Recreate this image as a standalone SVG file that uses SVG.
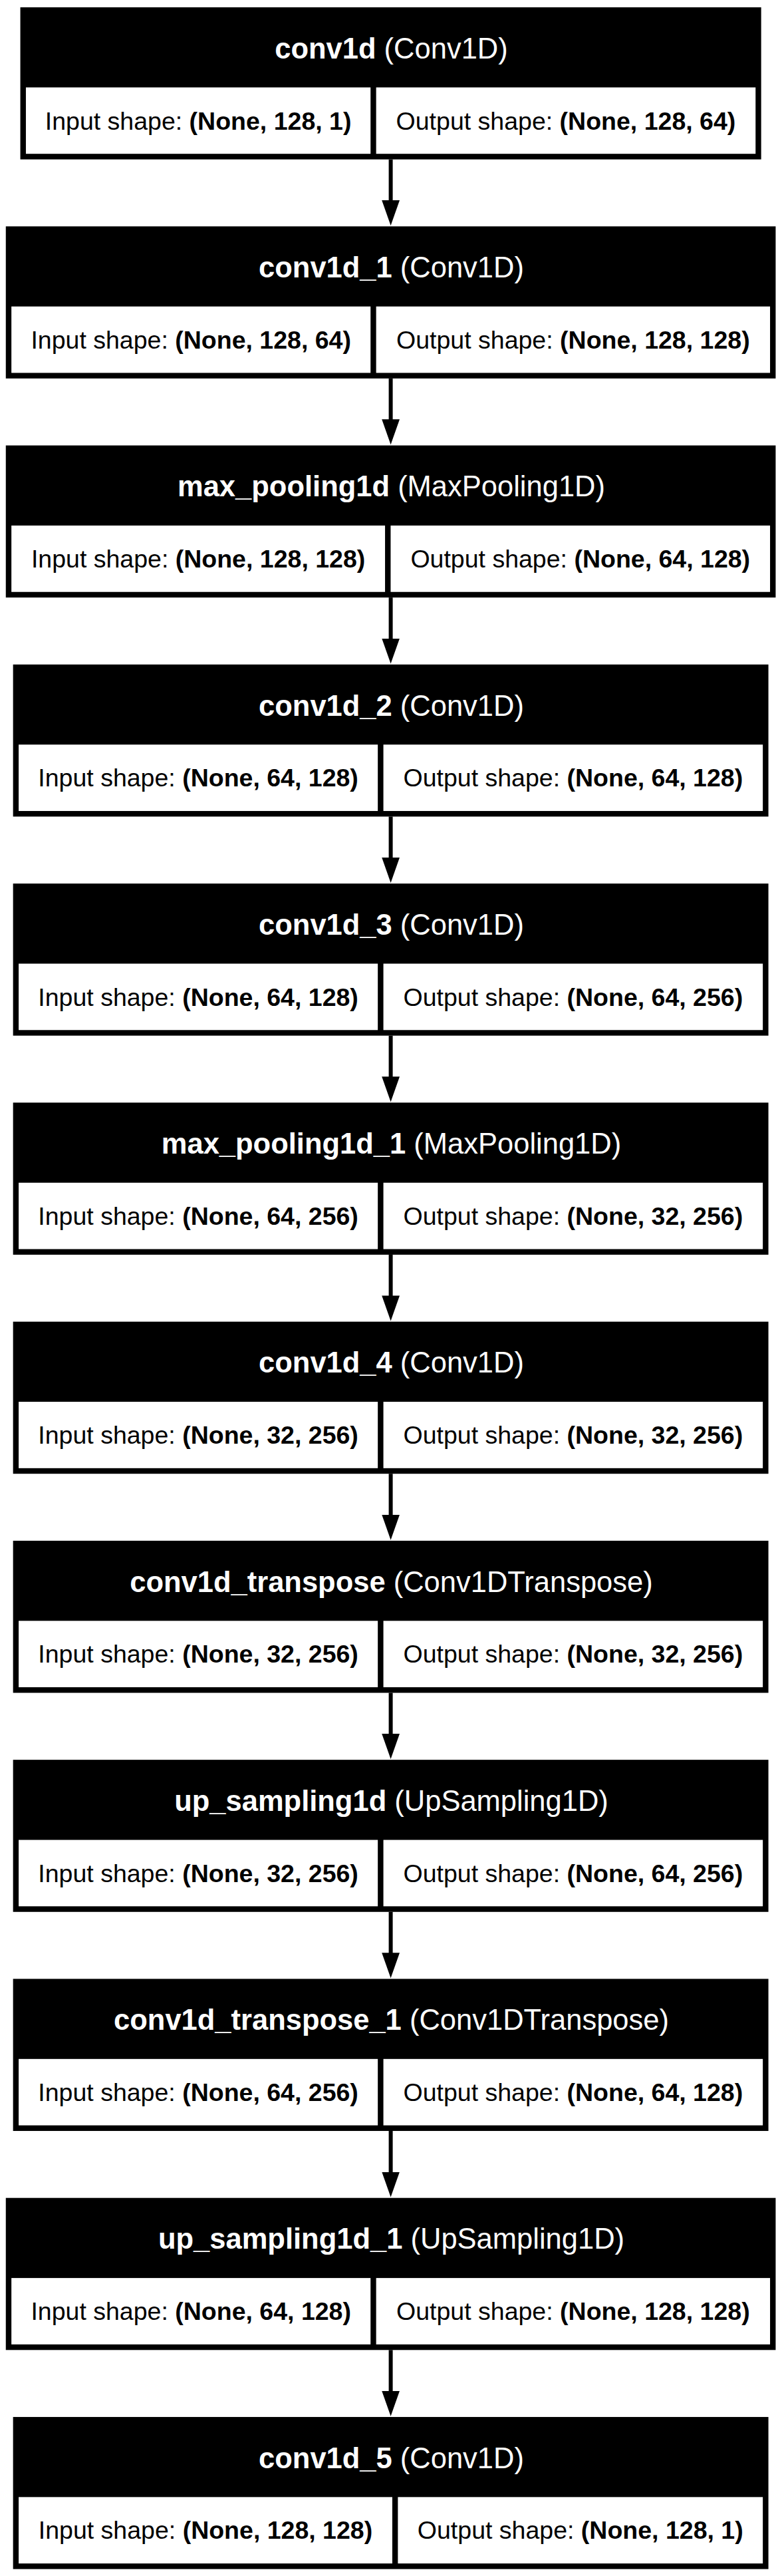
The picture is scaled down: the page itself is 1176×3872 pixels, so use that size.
<svg xmlns="http://www.w3.org/2000/svg" width="1176" height="3872" viewBox="0 0 1176 3872">
<style>
.bg{fill:#fff}
.box{fill:#000}
.cell{fill:#fff}
.hd{font-family:"Liberation Sans",Arial,Helvetica,sans-serif;font-size:43.5px;fill:#fff;text-anchor:middle}
.bd{font-family:"Liberation Sans",Arial,Helvetica,sans-serif;font-size:37.5px;fill:#000;text-anchor:middle}
.b{font-weight:bold}
.edge{stroke:#000;stroke-width:6;fill:none}
</style>
<defs>
<marker id="ah" markerUnits="userSpaceOnUse" viewBox="0 0 40 28" markerWidth="40" markerHeight="28" refX="1" refY="13.4" orient="auto">
<path d="M0,0 L38,13.4 L0,26.8 Z" fill="#000"/>
</marker>
</defs>
<rect class="bg" x="0" y="0" width="1176" height="3872"/>
<g id="connectors">
<line class="edge" x1="587.6" y1="239.6" x2="587.6" y2="302.07" marker-end="url(#ah)"/>
<line class="edge" x1="587.6" y1="568.87" x2="587.6" y2="631.34" marker-end="url(#ah)"/>
<line class="edge" x1="587.6" y1="898.14" x2="587.6" y2="960.61" marker-end="url(#ah)"/>
<line class="edge" x1="587.6" y1="1227.41" x2="587.6" y2="1289.88" marker-end="url(#ah)"/>
<line class="edge" x1="587.6" y1="1556.68" x2="587.6" y2="1619.15" marker-end="url(#ah)"/>
<line class="edge" x1="587.6" y1="1885.95" x2="587.6" y2="1948.42" marker-end="url(#ah)"/>
<line class="edge" x1="587.6" y1="2215.22" x2="587.6" y2="2277.69" marker-end="url(#ah)"/>
<line class="edge" x1="587.6" y1="2544.49" x2="587.6" y2="2606.96" marker-end="url(#ah)"/>
<line class="edge" x1="587.6" y1="2873.76" x2="587.6" y2="2936.23" marker-end="url(#ah)"/>
<line class="edge" x1="587.6" y1="3203.03" x2="587.6" y2="3265.5" marker-end="url(#ah)"/>
<line class="edge" x1="587.6" y1="3532.3" x2="587.6" y2="3594.77" marker-end="url(#ah)"/>
</g>
<g id="conv1d">
<rect class="box" x="30.55" y="11" width="1114.1" height="228.6"/>
<rect class="cell" x="38.95" y="131.4" width="518.3" height="99.8"/>
<rect class="cell" x="565.65" y="131.4" width="570.6" height="99.8"/>
<text class="hd" x="588.5" y="87.7"><tspan class="b">conv1d</tspan> (Conv1D)</text>
<text class="bd" x="298.1" y="194.5">Input shape: <tspan class="b">(None, 128, 1)</tspan></text>
<text class="bd" x="850.95" y="194.5">Output shape: <tspan class="b">(None, 128, 64)</tspan></text>
</g>
<g id="conv1d_1">
<rect class="box" x="8.75" y="340.27" width="1157.7" height="228.6"/>
<rect class="cell" x="17.15" y="460.67" width="540.1" height="99.8"/>
<rect class="cell" x="565.65" y="460.67" width="592.4" height="99.8"/>
<text class="hd" x="588.5" y="416.97"><tspan class="b">conv1d_1</tspan> (Conv1D)</text>
<text class="bd" x="287.2" y="523.77">Input shape: <tspan class="b">(None, 128, 64)</tspan></text>
<text class="bd" x="861.85" y="523.77">Output shape: <tspan class="b">(None, 128, 128)</tspan></text>
</g>
<g id="max_pooling1d">
<rect class="box" x="8.75" y="669.54" width="1157.7" height="228.6"/>
<rect class="cell" x="17.15" y="789.94" width="561.9" height="99.8"/>
<rect class="cell" x="587.45" y="789.94" width="570.6" height="99.8"/>
<text class="hd" x="588.5" y="746.24"><tspan class="b">max_pooling1d</tspan> (MaxPooling1D)</text>
<text class="bd" x="298.1" y="853.04">Input shape: <tspan class="b">(None, 128, 128)</tspan></text>
<text class="bd" x="872.75" y="853.04">Output shape: <tspan class="b">(None, 64, 128)</tspan></text>
</g>
<g id="conv1d_2">
<rect class="box" x="19.65" y="998.81" width="1135.9" height="228.6"/>
<rect class="cell" x="28.05" y="1119.21" width="540.1" height="99.8"/>
<rect class="cell" x="576.55" y="1119.21" width="570.6" height="99.8"/>
<text class="hd" x="588.5" y="1075.51"><tspan class="b">conv1d_2</tspan> (Conv1D)</text>
<text class="bd" x="298.1" y="1182.31">Input shape: <tspan class="b">(None, 64, 128)</tspan></text>
<text class="bd" x="861.85" y="1182.31">Output shape: <tspan class="b">(None, 64, 128)</tspan></text>
</g>
<g id="conv1d_3">
<rect class="box" x="19.65" y="1328.08" width="1135.9" height="228.6"/>
<rect class="cell" x="28.05" y="1448.48" width="540.1" height="99.8"/>
<rect class="cell" x="576.55" y="1448.48" width="570.6" height="99.8"/>
<text class="hd" x="588.5" y="1404.78"><tspan class="b">conv1d_3</tspan> (Conv1D)</text>
<text class="bd" x="298.1" y="1511.58">Input shape: <tspan class="b">(None, 64, 128)</tspan></text>
<text class="bd" x="861.85" y="1511.58">Output shape: <tspan class="b">(None, 64, 256)</tspan></text>
</g>
<g id="max_pooling1d_1">
<rect class="box" x="19.65" y="1657.35" width="1135.9" height="228.6"/>
<rect class="cell" x="28.05" y="1777.75" width="540.1" height="99.8"/>
<rect class="cell" x="576.55" y="1777.75" width="570.6" height="99.8"/>
<text class="hd" x="588.5" y="1734.05"><tspan class="b">max_pooling1d_1</tspan> (MaxPooling1D)</text>
<text class="bd" x="298.1" y="1840.85">Input shape: <tspan class="b">(None, 64, 256)</tspan></text>
<text class="bd" x="861.85" y="1840.85">Output shape: <tspan class="b">(None, 32, 256)</tspan></text>
</g>
<g id="conv1d_4">
<rect class="box" x="19.65" y="1986.62" width="1135.9" height="228.6"/>
<rect class="cell" x="28.05" y="2107.02" width="540.1" height="99.8"/>
<rect class="cell" x="576.55" y="2107.02" width="570.6" height="99.8"/>
<text class="hd" x="588.5" y="2063.32"><tspan class="b">conv1d_4</tspan> (Conv1D)</text>
<text class="bd" x="298.1" y="2170.12">Input shape: <tspan class="b">(None, 32, 256)</tspan></text>
<text class="bd" x="861.85" y="2170.12">Output shape: <tspan class="b">(None, 32, 256)</tspan></text>
</g>
<g id="conv1d_transpose">
<rect class="box" x="19.65" y="2315.89" width="1135.9" height="228.6"/>
<rect class="cell" x="28.05" y="2436.29" width="540.1" height="99.8"/>
<rect class="cell" x="576.55" y="2436.29" width="570.6" height="99.8"/>
<text class="hd" x="588.5" y="2392.59"><tspan class="b">conv1d_transpose</tspan> (Conv1DTranspose)</text>
<text class="bd" x="298.1" y="2499.39">Input shape: <tspan class="b">(None, 32, 256)</tspan></text>
<text class="bd" x="861.85" y="2499.39">Output shape: <tspan class="b">(None, 32, 256)</tspan></text>
</g>
<g id="up_sampling1d">
<rect class="box" x="19.65" y="2645.16" width="1135.9" height="228.6"/>
<rect class="cell" x="28.05" y="2765.56" width="540.1" height="99.8"/>
<rect class="cell" x="576.55" y="2765.56" width="570.6" height="99.8"/>
<text class="hd" x="588.5" y="2721.86"><tspan class="b">up_sampling1d</tspan> (UpSampling1D)</text>
<text class="bd" x="298.1" y="2828.66">Input shape: <tspan class="b">(None, 32, 256)</tspan></text>
<text class="bd" x="861.85" y="2828.66">Output shape: <tspan class="b">(None, 64, 256)</tspan></text>
</g>
<g id="conv1d_transpose_1">
<rect class="box" x="19.65" y="2974.43" width="1135.9" height="228.6"/>
<rect class="cell" x="28.05" y="3094.83" width="540.1" height="99.8"/>
<rect class="cell" x="576.55" y="3094.83" width="570.6" height="99.8"/>
<text class="hd" x="588.5" y="3051.13"><tspan class="b">conv1d_transpose_1</tspan> (Conv1DTranspose)</text>
<text class="bd" x="298.1" y="3157.93">Input shape: <tspan class="b">(None, 64, 256)</tspan></text>
<text class="bd" x="861.85" y="3157.93">Output shape: <tspan class="b">(None, 64, 128)</tspan></text>
</g>
<g id="up_sampling1d_1">
<rect class="box" x="8.75" y="3303.7" width="1157.7" height="228.6"/>
<rect class="cell" x="17.15" y="3424.1" width="540.1" height="99.8"/>
<rect class="cell" x="565.65" y="3424.1" width="592.4" height="99.8"/>
<text class="hd" x="588.5" y="3380.4"><tspan class="b">up_sampling1d_1</tspan> (UpSampling1D)</text>
<text class="bd" x="287.2" y="3487.2">Input shape: <tspan class="b">(None, 64, 128)</tspan></text>
<text class="bd" x="861.85" y="3487.2">Output shape: <tspan class="b">(None, 128, 128)</tspan></text>
</g>
<g id="conv1d_5">
<rect class="box" x="19.65" y="3632.97" width="1135.9" height="228.6"/>
<rect class="cell" x="28.05" y="3753.37" width="561.9" height="99.8"/>
<rect class="cell" x="598.35" y="3753.37" width="548.8" height="99.8"/>
<text class="hd" x="588.5" y="3709.67"><tspan class="b">conv1d_5</tspan> (Conv1D)</text>
<text class="bd" x="309" y="3816.47">Input shape: <tspan class="b">(None, 128, 128)</tspan></text>
<text class="bd" x="872.75" y="3816.47">Output shape: <tspan class="b">(None, 128, 1)</tspan></text>
</g>
</svg>
